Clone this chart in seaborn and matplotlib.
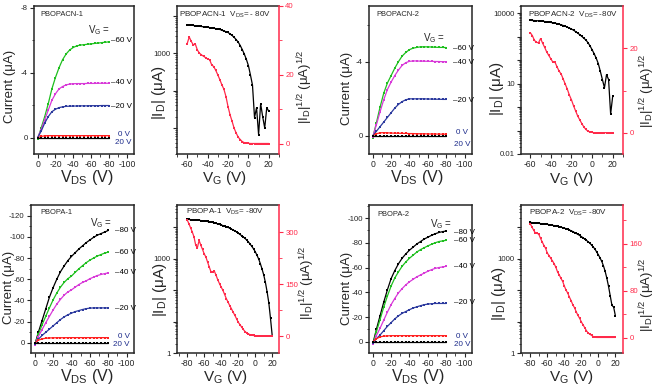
import numpy as np
import matplotlib
matplotlib.use("Agg")
import matplotlib.pyplot as plt
import matplotlib.ticker as mticker
from matplotlib import font_manager
import seaborn as sns

# ---------------- data ----------------
# output curves, V_DS sweep (V)
vds = [0, -4, -8, -12, -16, -20, -24, -28, -32, -36, -40,
       -44, -48, -52, -56, -60, -64, -68, -72, -76, -80]

# PBOPACN-1 output, current in uA
cn1_m60 = [0.1, -0.6, -1.3, -2.1, -3.0, -3.7, -4.3, -4.8, -5.15, -5.4, -5.55,
           -5.65, -5.7, -5.72, -5.75, -5.77, -5.8, -5.82, -5.85, -5.87, -5.9]
cn1_m40 = [0.0, -0.5, -1.1, -1.7, -2.3, -2.7, -3.0, -3.15, -3.25, -3.3, -3.32,
           -3.33, -3.33, -3.33, -3.34, -3.34, -3.34, -3.35, -3.35, -3.35, -3.35]
cn1_m20 = [0.0, -0.4, -0.9, -1.3, -1.6, -1.75, -1.85, -1.9, -1.93, -1.94, -1.95,
           -1.95, -1.96, -1.96, -1.96, -1.97, -1.97, -1.97, -1.98, -1.98, -1.98]
cn1_0 = [0.0, -0.08, -0.12, -0.13, -0.13, -0.13, -0.13, -0.13, -0.13, -0.13, -0.13,
         -0.13, -0.13, -0.13, -0.13, -0.13, -0.13, -0.13, -0.13, -0.13, -0.13]
cn1_p20 = [0.02, 0.02, 0.02, 0.02, 0.02, 0.02, 0.02, 0.02, 0.02, 0.02, 0.02,
           0.02, 0.02, 0.02, 0.02, 0.02, 0.02, 0.02, 0.02, 0.02, 0.02]

# PBOPACN-2 output
cn2_m60 = [0.1, -0.7, -1.55, -2.3, -2.85, -3.25, -3.65, -4.0, -4.3, -4.5, -4.65,
           -4.73, -4.77, -4.8, -4.8, -4.8, -4.79, -4.78, -4.77, -4.77, -4.76]
cn2_m40 = [0.05, -0.6, -1.3, -1.95, -2.5, -2.9, -3.25, -3.55, -3.8, -3.95, -4.02,
           -4.04, -4.04, -4.03, -4.03, -4.02, -4.02, -4.01, -4.01, -4.0, -4.0]
cn2_m20 = [0.0, -0.25, -0.5, -0.75, -1.0, -1.25, -1.5, -1.7, -1.85, -1.95, -2.0,
           -2.0, -2.0, -2.0, -2.0, -1.99, -1.99, -1.98, -1.98, -1.97, -1.97]
cn2_0 = [0.0, -0.12, -0.17, -0.18, -0.17, -0.16, -0.15, -0.15, -0.14, -0.14, -0.13,
         -0.13, -0.12, -0.12, -0.12, -0.11, -0.11, -0.11, -0.1, -0.1, -0.1]
cn2_p20 = [0.02, 0.02, 0.02, 0.02, 0.02, 0.02, 0.02, 0.02, 0.02, 0.02, 0.02,
           0.02, 0.02, 0.02, 0.02, 0.02, 0.02, 0.02, 0.02, 0.02, 0.02]

# PBOPA-1 output
pa1_m80 = [2, -10, -21, -32, -43, -52, -60, -67, -72.5, -77.5, -81.5,
           -85, -88.5, -91.5, -94.5, -97, -99.5, -101.5, -103, -104.5, -106]
pa1_m60 = [2, -8, -17, -25, -33, -40.5, -47, -52.5, -57, -60.5, -63,
           -66.5, -69.8, -72.8, -75.6, -78, -80, -81.8, -83.3, -84.6, -85.6]
pa1_m40 = [2, -6, -12.5, -19, -25, -31, -36.5, -41, -45, -48, -50,
           -52.5, -55, -57, -58.5, -60.5, -62, -63.5, -64.5, -65.3, -66]
pa1_m20 = [1, -3.5, -7, -10, -13, -16, -19, -22, -24.5, -26.5, -28,
           -29.5, -30.5, -31.5, -32.3, -32.8, -33, -33, -33, -33, -33]
pa1_0 = [0, -2.5, -3.8, -4.4, -4.7, -4.8, -4.9, -4.9, -4.9, -5, -5,
         -5, -5, -5, -5, -5, -5, -5, -5, -5, -5]
pa1_p20 = [0, 0, 0, 0, 0, 0, 0, 0, 0, 0, 0,
           0, 0, 0, 0, 0, 0, 0, 0, 0, 0]

# PBOPA-2 output
pa2_m80 = [2, -10, -21, -32, -42, -51, -57.5, -63, -67.5, -71, -74,
           -76.5, -79, -81, -83, -84.5, -86, -87.3, -88.3, -89, -89.5]
pa2_m60 = [2, -8, -18, -28, -37, -45, -51.5, -56.5, -61, -64.5, -67.5,
           -70, -72.5, -74.5, -76, -77.5, -78.8, -80, -81, -81.5, -82]
pa2_m40 = [2, -5, -11, -17.5, -24, -30, -35, -39.5, -43, -46, -48.5,
           -50.5, -52.5, -54, -55.5, -57, -58.3, -59.3, -60, -60.5, -61]
pa2_m20 = [1, -2.5, -5.5, -9, -12.5, -15.5, -18.5, -21, -23, -24.5, -26,
           -27.3, -28.3, -29.2, -30, -30.5, -30.8, -31, -31, -31, -31]
pa2_0 = [0, -2.5, -4, -4.6, -4.8, -5, -5, -5, -5, -5, -5,
         -5, -5, -5, -5, -5, -5, -5, -5, -5, -5]
pa2_p20 = [0, 0, 0, 0, 0, 0, 0, 0, 0, 0, 0,
           0, 0, 0, 0, 0, 0, 0, 0, 0, 0]

# transfer curves, V_G sweep (V)
vg60 = [-60, -58, -56, -54, -52, -50, -48, -46, -44, -42,
        -40, -38, -36, -34, -32, -30, -28, -26, -24, -22,
        -20, -18, -16, -14, -12, -10, -8, -6, -4, -2,
        0, 2, 4, 6, 8, 10, 12, 14, 16, 18, 20]
vg80 = [-80, -78, -76, -74, -72, -70, -68, -66, -64, -62,
        -60, -58, -56, -54, -52, -50, -48, -46, -44, -42,
        -40, -38, -36, -34, -32, -30, -28, -26, -24, -22,
        -20, -18, -16, -14, -12, -10, -8, -6, -4, -2,
        0, 2, 4, 6, 8, 10, 12, 14, 16, 18, 20]

cn1_id = [5900, 5800, 5700, 5600, 5500, 5400, 5300, 5250, 5150, 5050,
          5000, 4900, 4800, 4700, 4600, 4470, 4370, 4170, 3980, 3800,
          3630, 3310, 3020, 2690, 2340, 2000, 1620, 1260, 955, 690,
          470, 263, 141, 19, 35, 6.6, 45, 20, 10, 35, 28]
cn1_sqrt = [29.1, 31.0, 29.7, 28.7, 28.9, 27.2, 26.3, 25.8, 25.4, 25.0,
            24.6, 24.4, 22.9, 22.4, 21.3, 20.0, 18.6, 17.1, 15.8, 13.7,
            10.8, 8.4, 6.5, 4.5, 3.1, 1.9, 1.2, 0.6, 0.3, 0.2,
            0.1, 0.05, 0.05, 0.05, 0.05, 0.05, 0.05, 0.05, 0.05, 0.05, 0.05]

cn2_id = [4900, 4840, 4790, 4730, 4680, 4570, 4470, 4370, 4270, 4120,
          3980, 3850, 3720, 3550, 3350, 3160, 2950, 2750, 2510, 2290,
          2090, 1860, 1620, 1410, 1200, 1020, 850, 710, 550, 400,
          275, 186, 120, 71, 33, 14.8, 6.6, 24, 14.8, 0.5, 2.9]
cn2_sqrt = [23.7, 23.0, 21.9, 21.4, 21.3, 22.3, 21.2, 20.2, 19.1, 18.3,
            17.5, 16.7, 16.7, 15.6, 14.6, 13.9, 12.7, 11.5, 10.3, 8.9,
            7.8, 6.4, 5.2, 4.0, 3.1, 2.2, 1.4, 0.8, 0.4, 0.2,
            0.1, 0.05, 0.05, 0.05, 0.05, 0.05, 0.05, 0.05, 0.05, 0.05, 0.05]

pa1_id = [18200, 18000, 17800, 17600, 17400, 17400, 17200, 17000, 16600, 16400,
          16200, 15800, 15500, 15100, 14800, 14500, 14000, 13500, 13000, 12600,
          12000, 11500, 11000, 10500, 10000, 9550, 8900, 8300, 7800, 7200,
          6600, 6000, 5500, 5000, 4470, 3980, 3470, 2950, 2510, 2090,
          1700, 1320, 1000, 710, 480, 310, 178, 89, 40, 12.6, 3.6]
pa1_sqrt = [335, 324, 312, 300, 286, 262, 255, 276, 262, 250,
            237, 228, 213, 199, 185, 185, 187, 175, 162, 151,
            141, 132, 120, 108, 98, 88, 79, 69, 60, 50,
            40, 33, 26, 19, 13, 9, 6, 4, 2, 1.5,
            1, 1, 1, 1, 1, 1, 1, 1, 1, 1, 1]

pa2_id = [14500, 14300, 14100, 13800, 13600, 13500, 13300, 13200, 12900, 12700,
          12600, 12300, 12000, 11700, 11500, 11200, 11000, 10600, 10200, 9900,
          9550, 9100, 8700, 8300, 7850, 7400, 6900, 6450, 6000, 5560,
          5130, 4680, 4270, 3890, 3510, 3160, 2750, 2400, 2040, 1660,
          1350, 1070, 830, 600, 400, 240, 132, 66, 33, 29, 15.5]
pa2_sqrt = [194, 188, 183, 178, 178, 176, 169, 163, 157, 152,
            144, 140, 135, 131, 126, 120, 112, 107, 101, 96,
            88, 81, 76, 69, 63, 56, 51, 44, 38, 33,
            27, 22, 17, 12, 8, 6, 4, 2, 1, 0.5,
            0.5, 0.5, 0.5, 0.5, 0.5, 0.5, 0.5, 0.5, 0.5, 0.5, 0.5]

labels_cn = ["V$_G$ =", "\u201360 V", "\u201340 V", "\u201320 V", "0 V", "20 V"]
labels_pa = ["V$_G$ =", "\u201380 V", "\u201360 V", "\u201340 V", "\u201320 V",
             "0 V", "20 V"]

# ---------------- style ----------------
sns.set_style("ticks")
SANS = "Liberation Sans"
installed = {f.name for f in font_manager.fontManager.ttflist}
NARROW = "Liberation Sans Narrow" if "Liberation Sans Narrow" in installed else SANS
YT_FS = 6.6 if NARROW != SANS else 5.6

plt.rcParams["font.family"] = [SANS, "DejaVu Sans"]
plt.rcParams["mathtext.default"] = "regular"
plt.rcParams["axes.unicode_minus"] = False
plt.rcParams["axes.linewidth"] = 1.1
plt.rcParams["xtick.major.size"] = 3
plt.rcParams["ytick.major.size"] = 3
plt.rcParams["xtick.minor.size"] = 1.8
plt.rcParams["ytick.minor.size"] = 1.8
plt.rcParams["xtick.major.width"] = 0.8
plt.rcParams["ytick.major.width"] = 0.8
plt.rcParams["xtick.labelsize"] = 6.2
plt.rcParams["ytick.labelsize"] = YT_FS
plt.rcParams["xtick.major.pad"] = 1.5
plt.rcParams["ytick.major.pad"] = 1.5

GREEN = "#1fbf1f"
MAGENTA = "#d83ad8"
BLUE = "#2c3a9e"
RED = "#ff2020"
PINK = "#ff2a4a"
NAVY = "#1b2a8a"

W, H = 664, 386
fig = plt.figure(figsize=(W / 100, H / 100), dpi=100)


def px_ax(l, t, r, b):
    return fig.add_axes([l / W, 1 - b / H, (r - l) / W, (b - t) / H])


def ptext(x, y, s, **kw):
    fig.text(x / W, 1 - y / H, s, **kw)


def line(ax, x, y, color, ms=1.7):
    sns.lineplot(x=x, y=y, ax=ax, color=color, marker="s", markersize=ms,
                 markeredgewidth=0, linewidth=0.9, sort=False, estimator=None)


def fmt(v, p):
    return f"{v:g}"


def output_panel(box, series, labels, ylim, ymaj, ymin, name, name_xy, lab_pos,
                 xlab_xy, ylab_xy):
    ax = px_ax(*box)
    colors = ["k", GREEN, MAGENTA, BLUE, RED, "k"]
    for s, c in zip(series, colors[-len(series):]):
        line(ax, vds, s, c, ms=1.9)
    ax.set_xlim(4, -108)
    ax.set_ylim(*ylim)
    ax.xaxis.set_major_locator(mticker.FixedLocator([0, -20, -40, -60, -80, -100]))
    ax.xaxis.set_minor_locator(mticker.MultipleLocator(10))
    ax.yaxis.set_major_locator(mticker.MultipleLocator(ymaj))
    ax.yaxis.set_minor_locator(mticker.MultipleLocator(ymin))
    ax.xaxis.set_major_formatter(mticker.FuncFormatter(fmt))
    ax.yaxis.set_major_formatter(mticker.FuncFormatter(fmt))
    ax.tick_params(axis="y", labelfontfamily=NARROW)
    ax.set_xlabel("")
    ax.set_ylabel("")
    ptext(*name_xy, name, fontsize=5.4, va="center")
    for (x, y), s in zip(lab_pos, labels):
        if "=" in s:
            ptext(x, y, s, fontsize=7, va="center")
        else:
            col = NAVY if s in ("0 V", "20 V") else "k"
            ptext(x, y, s, fontsize=5.8, color=col, va="center")
    ptext(*xlab_xy, "V$_{DS}$ (V)", fontsize=11.5, ha="center", va="top")
    ptext(*ylab_xy, "Current (\u03bcA)", fontsize=9.5, ha="center",
          va="center", rotation=90)
    return ax


def transfer_panel(box, vg, idv, sq, xlim, xt, ylog, loglabels, ylin, yt_maj,
                   yt_min, title, title_xy, xlab_xy, ylab_xy, rlab_xy):
    ax = px_ax(*box)
    line(ax, vg, idv, "k")
    ax.set_yscale("log")
    ax.set_xlim(*xlim)
    ax.set_ylim(*ylog)
    ax.xaxis.set_major_locator(mticker.FixedLocator(xt))
    ax.xaxis.set_minor_locator(mticker.MultipleLocator(10))
    ax.xaxis.set_major_formatter(mticker.FuncFormatter(fmt))
    ax.yaxis.set_major_locator(mticker.LogLocator(base=10, numticks=20))
    ax.yaxis.set_minor_locator(mticker.LogLocator(base=10, subs=np.arange(2, 10),
                                                  numticks=20))
    ax.yaxis.set_minor_formatter(mticker.NullFormatter())
    ax.yaxis.set_major_formatter(mticker.FuncFormatter(
        lambda v, p: loglabels.get(int(round(np.log10(v))), "")))
    ax.tick_params(axis="y", labelfontfamily=NARROW)
    ax.spines["right"].set_visible(False)
    ax.set_xlabel("")
    ax.set_ylabel("")

    ax2 = ax.twinx()
    line(ax2, vg, sq, PINK)
    ax2.set_ylim(*ylin)
    ax2.yaxis.set_major_locator(mticker.FixedLocator(yt_maj))
    ax2.yaxis.set_minor_locator(mticker.FixedLocator(yt_min))
    ax2.yaxis.set_major_formatter(mticker.FuncFormatter(fmt))
    for sp in ["left", "top", "bottom"]:
        ax2.spines[sp].set_visible(False)
    ax2.spines["right"].set_color(PINK)
    ax2.tick_params(axis="y", which="both", colors=PINK, labelcolor=PINK,
                    labelfontfamily=NARROW)
    ax2.set_ylabel("")

    ptext(*title_xy, title, fontsize=5.8, va="center")
    ptext(*xlab_xy, "V$_G$ (V)", fontsize=11, ha="center", va="top")
    ptext(*ylab_xy, "|I$_D$| (\u03bcA)", fontsize=11, ha="center",
          va="center", rotation=90)
    ptext(*rlab_xy, "|I$_D$|$^{1/2}$ (\u03bcA)$^{1/2}$", fontsize=9.5,
          ha="center", va="center", rotation=90)
    return ax


# ---------------- top row ----------------
output_panel((34, 6, 134, 154),
             [cn1_m60, cn1_m40, cn1_m20, cn1_0, cn1_p20], labels_cn,
             (1.0, -8.1), 4, 2, "PBOPACN-1", (40, 15),
             [(88, 30), (111, 41), (111, 83), (111, 106), (118, 134), (115, 143)],
             (87, 168), (10, 86))

transfer_panel((177, 6, 279, 154), vg60, cn1_id, cn1_sqrt, (-70, 30),
               [-60, -40, -20, 0, 20], (2, 18600), {3: "1000"},
               (-3, 40), [0, 20, 40], [10, 30],
               "PBOPACN-1  V$_{DS}$= - 80V", (179, 15),
               (224, 169), (159, 93), (305, 87))

output_panel((369, 6, 472, 154),
             [cn2_m60, cn2_m40, cn2_m20, cn2_0, cn2_p20], labels_cn,
             (0.97, -7.0), 4, 2, "PBOPACN-2", (376, 15),
             [(423, 38), (453, 48), (453, 62), (453, 101), (456, 133), (454, 144)],
             (417, 168), (347, 88))

transfer_panel((521, 6, 623, 154), vg60, cn2_id, cn2_sqrt, (-69, 30),
               [-60, -40, -20, 0, 20], (0.01, 20000),
               {-2: "0.01", 1: "10", 4: "10000"},
               (-5, 30), [0, 20], [10],
               "PBOPACN-2  V$_{DS}$= -80V", (528, 15),
               (571, 170), (497, 89), (647, 91))

# ---------------- bottom row ----------------
output_panel((31, 205, 134, 353),
             [pa1_m80, pa1_m60, pa1_m40, pa1_m20, pa1_0, pa1_p20], labels_pa,
             (9.5, -130), 20, 10, "PBOPA-1", (40, 213),
             [(90, 223), (115, 231), (115, 252), (115, 273), (115, 308),
              (118, 336), (113, 345)],
             (87, 367), (9, 287))

transfer_panel((177, 205, 279, 353), vg80, pa1_id, pa1_sqrt, (-92, 28),
               [-80, -60, -40, -20, 0, 20], (1, 52000), {0: "1", 3: "1000"},
               (-49, 378), [0, 150, 300], [75, 225],
               "PBOPA-1  V$_{DS}$= -80V", (186, 212),
               (225, 368), (160, 290), (307, 283))

output_panel((369, 205, 472, 353),
             [pa2_m80, pa2_m60, pa2_m40, pa2_m20, pa2_0, pa2_p20], labels_pa,
             (9, -110.5), 20, 10, "PBOPA-2", (377, 214),
             [(430, 224), (454, 232), (454, 240), (454, 266), (454, 303),
              (456, 336), (454, 344)],
             (418, 367), (347, 288))

transfer_panel((521, 205, 623, 353), vg80, pa2_id, pa2_sqrt, (-91, 29),
               [-80, -60, -40, -20, 0, 20], (1, 52000), {0: "1", 3: "1000"},
               (-26, 226), [0, 80, 160], [40, 120, 200],
               "PBOPA-2  V$_{DS}$= -80V", (529, 213),
               (571, 368), (499, 294), (647, 295))

fig.savefig("out.png", dpi=100)
